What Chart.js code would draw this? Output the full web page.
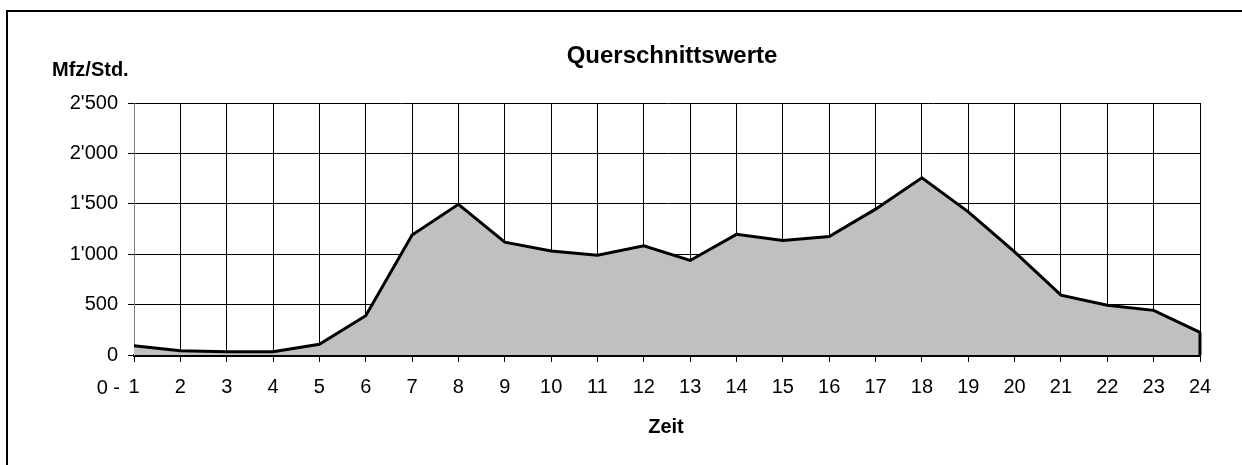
<!DOCTYPE html>
<html>
<head>
<meta charset="utf-8">
<script src="https://cdn.jsdelivr.net/npm/chart.js@4.4.1/dist/chart.umd.min.js"></script>
<style>
    html, body { margin: 0; padding: 0; background: #fff; }
    #wrap { position: relative; width: 1242px; height: 465px; overflow: hidden; }
    #frame {
        position: absolute; left: 6px; top: 10px; width: 1300px; height: 500px;
        border-left: 2px solid #000; border-top: 2px solid #000;
    }
    #chart { position: absolute; left: 0; top: 0; }
</style>
</head>
<body>
<div id="wrap">
    <div id="frame"></div>
    <canvas id="chart" width="1242" height="465"></canvas>
</div>
<script>
// Stunden (Zeit) und Querschnittswerte in Mfz/Std.
const hours = ['1', '2', '3', '4', '5', '6', '7', '8', '9', '10', '11', '12',
               '13', '14', '15', '16', '17', '18', '19', '20', '21', '22', '23', '24'];
const firstLabelPrefix = '0 -';
const vehicles = [92, 43, 32, 33, 106, 389, 1191, 1495, 1120, 1032, 990, 1084,
                  938, 1197, 1137, 1176, 1447, 1758, 1420, 1023, 594, 493, 443, 225];
const yTicks = [0, 500, 1000, 1500, 2000, 2500];

const chartTitle = 'Querschnittswerte';
const yTitle = 'Mfz/Std.';
const xTitle = 'Zeit';

const FONT = '"Liberation Sans", Arial, sans-serif';

function swissNumber(v) {
    return String(v).replace(/\B(?=(\d{3})+(?!\d))/g, "'");
}

// Titel, Achsentitel, "0 -" und rechte Kante der Flaeche
const extrasPlugin = {
    id: 'extras',
    afterDatasetsDraw(chart) {
        const ctx = chart.ctx;
        const meta = chart.getDatasetMeta(0);
        const last = meta.data[meta.data.length - 1];
        const yZero = chart.scales.y.getPixelForValue(0);
        ctx.save();
        ctx.strokeStyle = '#000';
        ctx.lineWidth = 3;
        ctx.beginPath();
        ctx.moveTo(last.x, last.y);
        ctx.lineTo(last.x, yZero);
        ctx.stroke();
        ctx.restore();
    },
    afterDraw(chart) {
        const ctx = chart.ctx;
        const area = chart.chartArea;
        const cx = (area.left + area.right) / 2;
        ctx.save();
        ctx.fillStyle = '#000';
        ctx.textBaseline = 'alphabetic';

        ctx.font = 'bold 24px ' + FONT;
        ctx.textAlign = 'center';
        ctx.fillText(chartTitle, cx + 5, 63);

        ctx.font = 'bold 20px ' + FONT;
        ctx.textAlign = 'left';
        ctx.fillText(yTitle, 52, 76);

        ctx.font = 'bold 20px ' + FONT;
        ctx.textAlign = 'center';
        ctx.fillText(xTitle, cx - 1, 433);

        const xs = chart.scales.x;
        ctx.font = '20px ' + FONT;
        ctx.textAlign = 'right';
        ctx.fillText(firstLabelPrefix, xs.getPixelForTick(0) - 14, 394);
        ctx.restore();
    }
};

new Chart(document.getElementById('chart'), {
    type: 'line',
    data: {
        labels: hours,
        datasets: [{
            data: vehicles,
            borderColor: '#000',
            borderWidth: 3,
            backgroundColor: '#c0c0c0',
            fill: 'origin',
            tension: 0,
            pointRadius: 0
        }]
    },
    options: {
        responsive: false,
        animation: false,
        layout: { padding: { top: 103, right: 42, bottom: 0, left: 0 } },
        plugins: {
            legend: { display: false },
            title: { display: false },
            tooltip: { enabled: false }
        },
        scales: {
            x: {
                type: 'category',
                offset: false,
                afterFit: s => { s.height = 110; },
                grid: { color: '#000', lineWidth: 1, tickLength: 7, drawTicks: true },
                border: { display: true, color: '#000', width: 3 },
                ticks: {
                    color: '#000', font: { family: FONT, size: 20 },
                    padding: 13, maxRotation: 0, autoSkip: false
                }
            },
            y: {
                min: 0,
                max: 2500,
                afterFit: s => { s.width = 134; },
                afterBuildTicks: s => { s.ticks = yTicks.map(v => ({ value: v })); },
                grid: { color: '#000', lineWidth: 1, tickLength: 6 },
                border: { display: true, color: '#808080', width: 1 },
                ticks: {
                    color: '#000', font: { family: FONT, size: 20 },
                    padding: 10,
                    callback: v => swissNumber(v)
                }
            }
        }
    },
    plugins: [extrasPlugin]
});
</script>
</body>
</html>
